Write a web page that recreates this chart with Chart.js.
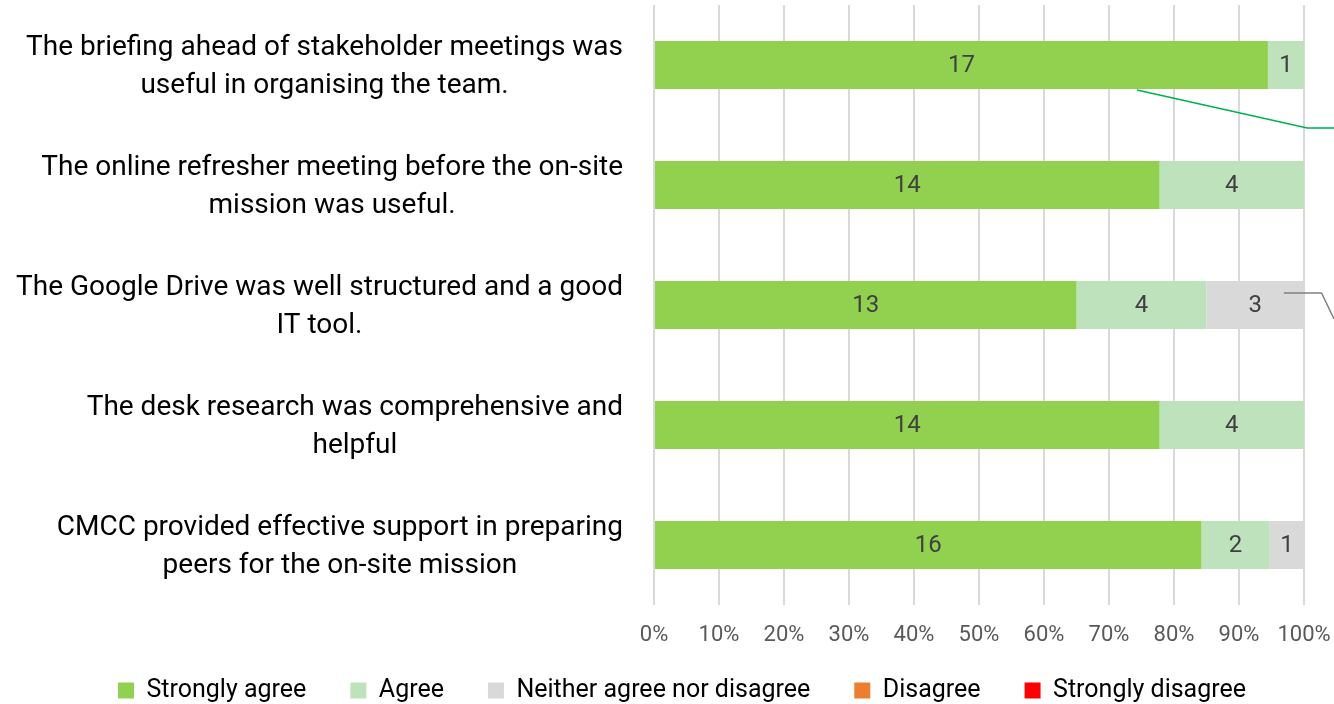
<!DOCTYPE html>
<html>
<head>
<meta charset="utf-8">
<script src="https://cdn.jsdelivr.net/npm/chart.js@4"></script>
<style>
  body { margin: 0; background: #fff; }
  #wrap { width: 1334px; height: 704px; }
</style>
</head>
<body>
<div id="wrap"><canvas id="chart" width="1334" height="704"></canvas></div>
<script>
const FONT = "Roboto, 'Liberation Sans', sans-serif";

const categories = [
    ['The briefing ahead of stakeholder meetings was', 'useful in organising the team.'],
    ['The online refresher meeting before the on-site', 'mission was useful.'],
    ['The Google Drive was well structured and a good', 'IT tool.'],
    ['The desk research was comprehensive and', 'helpful'],
    ['CMCC provided effective support in preparing', 'peers for the on-site mission']
];
const seriesNames = ['Strongly agree', 'Agree', 'Neither agree nor disagree', 'Disagree', 'Strongly disagree'];
const stronglyAgree = [17, 14, 13, 14, 16];
const agree = [1, 4, 4, 4, 2];
const neither = [0, 0, 3, 0, 1];
const disagree = [0, 0, 0, 0, 0];
const stronglyDisagree = [0, 0, 0, 0, 0];
const xTicks = [0, 10, 20, 30, 40, 50, 60, 70, 80, 90, 100];

const colors = ['#92D050', '#BEE3BC', '#D9D9D9', '#ED7D31', '#FF0000'];
const counts = [stronglyAgree, agree, neither, disagree, stronglyDisagree];
const totals = categories.map((c, i) => counts.reduce((s, a) => s + a[i], 0));

const ds = counts.map((arr, k) => ({
    label: seriesNames[k],
    data: arr.map((v, i) => v / totals[i] * 100),
    raw: arr,
    backgroundColor: colors[k],
    borderWidth: 0,
    barPercentage: 0.4,
    categoryPercentage: 1
}));

// value labels inside the segments
const barLabels = {
    id: 'barLabels',
    afterDatasetsDraw(c) {
        const ctx = c.ctx;
        ctx.save();
        ctx.font = '24px ' + FONT;
        ctx.fillStyle = '#404040';
        ctx.textAlign = 'center';
        ctx.textBaseline = 'middle';
        c.data.datasets.forEach((d, k) => {
            c.getDatasetMeta(k).data.forEach((bar, i) => {
                if (!d.raw[i]) return;
                ctx.fillText(d.raw[i], (bar.x + bar.base) / 2, bar.y + 1);
            });
        });
        ctx.restore();
    }
};

// category labels: each block centred on itself, right edge near the axis
const catLabels = {
    id: 'catLabels',
    afterDraw(c) {
        const ctx = c.ctx, y = c.scales.y;
        ctx.save();
        ctx.font = '28px ' + FONT;
        ctx.fillStyle = '#000';
        ctx.textAlign = 'center';
        ctx.textBaseline = 'middle';
        categories.forEach((lines, i) => {
            const w = Math.max(...lines.map(l => ctx.measureText(l).width));
            const cx = c.chartArea.left - 31 - w / 2;
            const cy = y.getPixelForValue(i);
            lines.forEach((l, j) => ctx.fillText(l, cx, cy - 17 + j * 38));
        });
        ctx.restore();
    }
};

// leader lines running off the right edge
const leaders = {
    id: 'leaders',
    afterDatasetsDraw(c) {
        const ctx = c.ctx, x = c.scales.x;
        const m0 = c.getDatasetMeta(0).data[0];
        const m2 = c.getDatasetMeta(2).data[2];
        ctx.save();
        ctx.lineWidth = 1.5;
        ctx.strokeStyle = '#00B050';
        ctx.beginPath();
        ctx.moveTo(x.getPixelForValue(74.3), m0.y + m0.height / 2 + 1);
        ctx.lineTo(x.getPixelForValue(100.5), m0.y + m0.height / 2 + 39);
        ctx.lineTo(c.width, m0.y + m0.height / 2 + 39);
        ctx.stroke();
        ctx.strokeStyle = '#808080';
        ctx.beginPath();
        ctx.moveTo(x.getPixelForValue(96.9), m2.y - 12);
        ctx.lineTo(x.getPixelForValue(102.7), m2.y - 12);
        ctx.lineTo(c.width, m2.y + 14);
        ctx.stroke();
        ctx.restore();
    }
};

// keep the wide legend spacing without a tall legend box
const legendFit = {
    id: 'legendFit',
    afterInit(c) {
        const lg = c.legend, fit = lg.fit;
        lg.fit = function () { fit.call(this); this.height = 55; };
    },
    afterLayout(c) {
        const lg = c.legend;
        lg.top = 634;
        lg.left += 60;
    }
};

new Chart(document.getElementById('chart'), {
    type: 'bar',
    data: { labels: categories, datasets: ds },
    plugins: [barLabels, catLabels, leaders, legendFit],
    options: {
        indexAxis: 'y',
        responsive: false,
        animation: false,
        layout: { padding: { top: 5, right: 30, bottom: 0, left: 0 } },
        scales: {
            x: {
                stacked: true, min: 0, max: 100,
                afterBuildTicks: s => { s.ticks = xTicks.map(v => ({ value: v })); },
                afterFit: s => { s.height = 44; s.paddingLeft = 0; s.paddingRight = 0; },
                grid: { color: '#D9D9D9', lineWidth: 2, drawTicks: false },
                border: { display: false },
                ticks: {
                    callback: v => v + '%',
                    color: '#595959',
                    font: { family: FONT, size: 22 },
                    padding: 17
                }
            },
            y: {
                stacked: true,
                grid: { display: false },
                border: { display: false },
                ticks: { display: false },
                afterFit: s => { s.width = 654; }
            }
        },
        plugins: {
            tooltip: { enabled: false },
            legend: {
                position: 'bottom',
                labels: {
                    color: '#000',
                    font: { family: FONT, size: 25 },
                    boxWidth: 16, boxHeight: 16,
                    padding: 44
                }
            }
        }
    }
});
</script>
</body>
</html>
